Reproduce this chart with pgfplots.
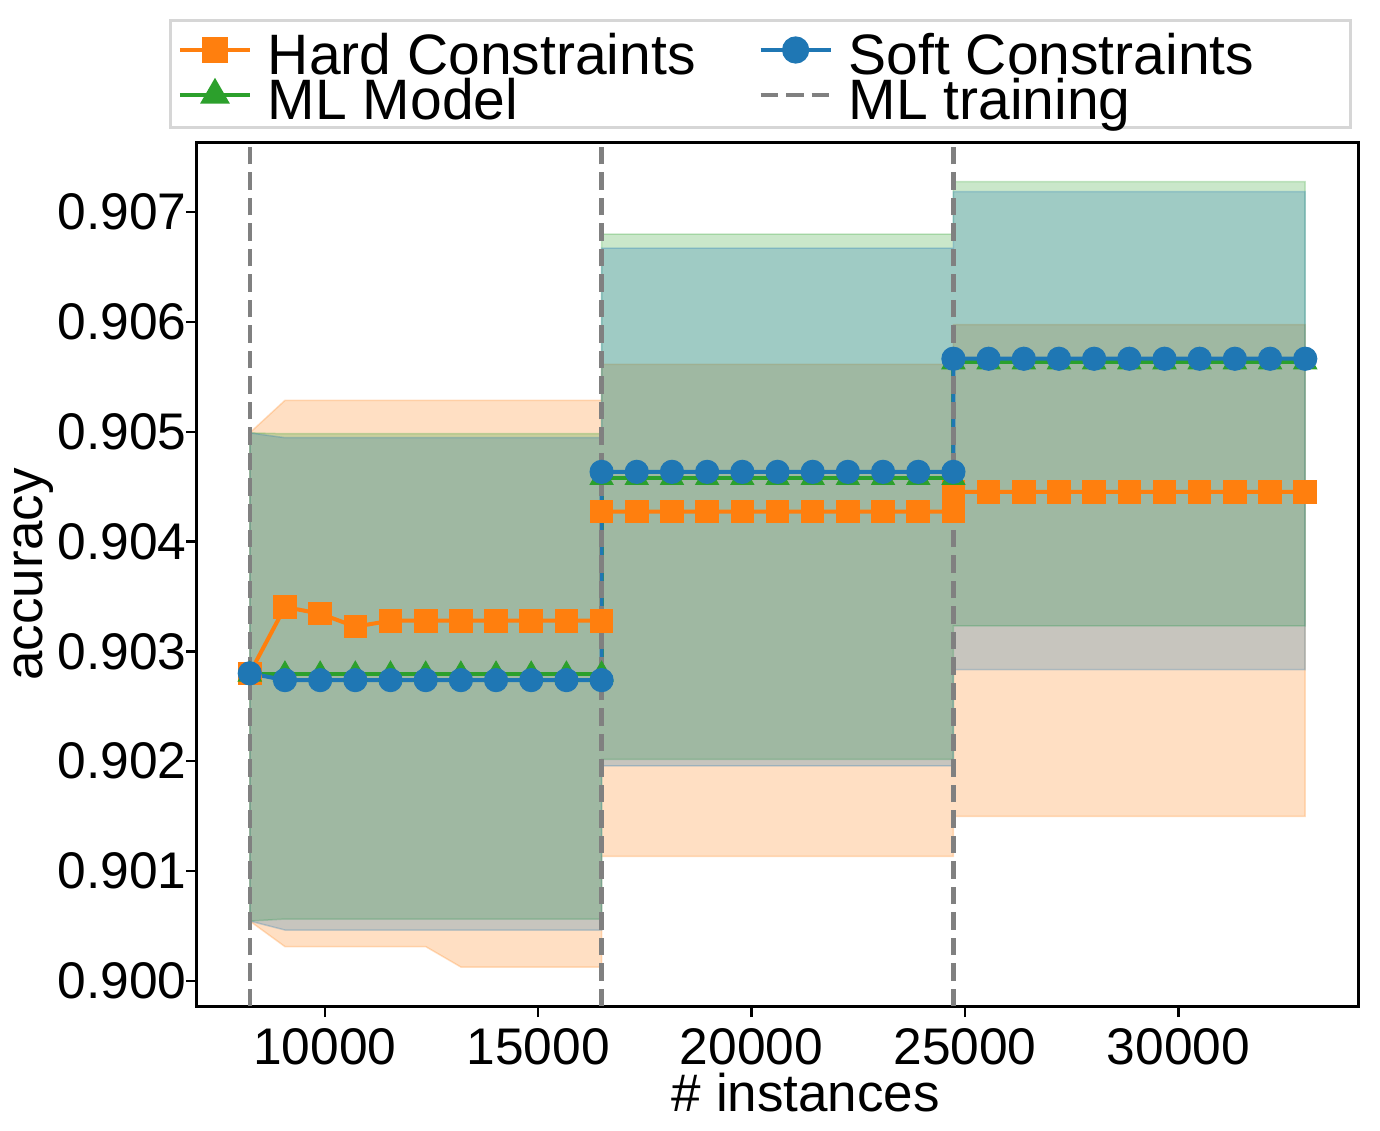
\documentclass[border=0pt]{standalone}
\usepackage{fontspec}
\setmainfont{Liberation Sans}
\usepackage{pgfplots}
\pgfplotsset{compat=1.18}
\definecolor{corange}{HTML}{FF7F0E}
\definecolor{cgreen}{HTML}{2CA02C}
\definecolor{cblue}{HTML}{1F77B4}
\definecolor{cgray}{HTML}{808080}
\begin{document}
\begin{tikzpicture}
% legend frame
\draw[black!16, line width=1.5pt, fill=white] (-13.5pt,439pt) rectangle (576.5pt,492.5pt);
\begin{axis}[
  at={(0pt,0pt)}, anchor=south west,
  scale only axis, width=580.5pt, height=431.5pt,
  xmin=7006.5, xmax=34208.5, ymin=0.89977, ymax=0.90763,
  axis line style={line width=1.5pt, black},
  every tick/.style={black, line width=1.25pt},
  major tick length=5.5pt,
  tick align=outside,
  xtick pos=left, ytick pos=left,
  xtick={10000,15000,20000,25000,30000},
  ytick={0.900,0.901,0.902,0.903,0.904,0.905,0.906,0.907},
  scaled x ticks=false, scaled y ticks=false,
  /pgf/number format/assume math mode=true,
  xticklabel style={font=\fontsize{25.75}{26}\selectfont, inner sep=0pt, anchor=north, yshift=-5.5pt, /pgf/number format/1000 sep={}},
  yticklabel style={font=\fontsize{25.75}{26}\selectfont, inner sep=0pt, anchor=east, xshift=0.5pt, /pgf/number format/.cd, fixed, fixed zerofill, precision=3},
  xlabel={\# instances}, ylabel={accuracy},
  every axis x label/.style={at={(axis description cs:0.5245,-0.12248)}, anchor=base, font=\fontsize{26.5}{27}\selectfont},
  every axis y label/.style={at={(axis description cs:-0.1335,0.5)}, anchor=base, rotate=90, font=\fontsize{26.5}{27}\selectfont},
  legend columns=2, legend cell align=left,
  legend style={
    at={(axis description cs:-0.014643,1.11587)}, anchor=north west,
    draw=none, fill=none, inner sep=0pt, outer sep=0pt,
    font=\fontsize{28.5}{29}\selectfont,
    row sep=0pt,
    nodes={inner sep=0pt, outer sep=0pt, text height=16pt, text depth=6.5pt},
    /tikz/every odd column/.style={column sep=9pt},
    /tikz/every even column/.style={column sep=32.5pt},
  },
  legend image code/.code={
    \draw[overlay, mark repeat=2, mark phase=2, #1] plot coordinates {(0pt,7.75pt) (17.5pt,7.75pt) (35pt,7.75pt)};
    \path[draw=none, fill=none] (0pt,0pt) -- (35pt,0pt);
  },
]
% ---------------- bands ----------------
\addplot[forget plot, fill=corange, draw=corange, opacity=0.25, line width=0.75pt] coordinates {
(8243,0.90499) (9067,0.905286) (9892,0.905286) (10716,0.905286) (11540,0.905286) (12365,0.905286) (13189,0.905286) (14013,0.905286) (14837,0.905286) (15662,0.905286) (16486,0.905286)
(16486,0.905613) (17310,0.905613) (18135,0.905613) (18959,0.905613) (19783,0.905613) (20608,0.905613) (21432,0.905613) (22256,0.905613) (23080,0.905613) (23905,0.905613) (24729,0.905613)
(24729,0.905976) (25553,0.905976) (26378,0.905976) (27202,0.905976) (28026,0.905976) (28851,0.905976) (29675,0.905976) (30499,0.905976) (31323,0.905976) (32148,0.905976) (32972,0.905976)
(32972,0.901496) (32148,0.901496) (31323,0.901496) (30499,0.901496) (29675,0.901496) (28851,0.901496) (28026,0.901496) (27202,0.901496) (26378,0.901496) (25553,0.901496) (24729,0.901496)
(24729,0.901132) (23905,0.901132) (23080,0.901132) (22256,0.901132) (21432,0.901132) (20608,0.901132) (19783,0.901132) (18959,0.901132) (18135,0.901132) (17310,0.901132) (16486,0.901132)
(16486,0.900125) (15662,0.900125) (14837,0.900125) (14013,0.900125) (13189,0.900125) (12365,0.900311) (11540,0.900311) (10716,0.900311) (9892,0.900311) (9067,0.900311) (8243,0.900544)
(8243,0.90499)
};
\addplot[forget plot, fill=cgreen, draw=cgreen, opacity=0.25, line width=0.75pt] coordinates {
(8243,0.90499) (9067,0.904982) (9892,0.904982) (10716,0.904982) (11540,0.904982) (12365,0.904982) (13189,0.904982) (14013,0.904982) (14837,0.904982) (15662,0.904982) (16486,0.904982)
(16486,0.906800) (17310,0.906800) (18135,0.906800) (18959,0.906800) (19783,0.906800) (20608,0.906800) (21432,0.906800) (22256,0.906800) (23080,0.906800) (23905,0.906800) (24729,0.906800)
(24729,0.907278) (25553,0.907278) (26378,0.907278) (27202,0.907278) (28026,0.907278) (28851,0.907278) (29675,0.907278) (30499,0.907278) (31323,0.907278) (32148,0.907278) (32972,0.907278)
(32972,0.903233) (32148,0.903233) (31323,0.903233) (30499,0.903233) (29675,0.903233) (28851,0.903233) (28026,0.903233) (27202,0.903233) (26378,0.903233) (25553,0.903233) (24729,0.903233)
(24729,0.902016) (23905,0.902016) (23080,0.902016) (22256,0.902016) (21432,0.902016) (20608,0.902016) (19783,0.902016) (18959,0.902016) (18135,0.902016) (17310,0.902016) (16486,0.902016)
(16486,0.900562) (15662,0.900562) (14837,0.900562) (14013,0.900562) (13189,0.900562) (12365,0.900562) (11540,0.900562) (10716,0.900562) (9892,0.900562) (9067,0.900562) (8243,0.900544)
(8243,0.90499)
};
\addplot[forget plot, fill=cblue, draw=cblue, opacity=0.25, line width=0.75pt] coordinates {
(8243,0.90499) (9067,0.904946) (9892,0.904946) (10716,0.904946) (11540,0.904946) (12365,0.904946) (13189,0.904946) (14013,0.904946) (14837,0.904946) (15662,0.904946) (16486,0.904946)
(16486,0.906673) (17310,0.906673) (18135,0.906673) (18959,0.906673) (19783,0.906673) (20608,0.906673) (21432,0.906673) (22256,0.906673) (23080,0.906673) (23905,0.906673) (24729,0.906673)
(24729,0.907187) (25553,0.907187) (26378,0.907187) (27202,0.907187) (28026,0.907187) (28851,0.907187) (29675,0.907187) (30499,0.907187) (31323,0.907187) (32148,0.907187) (32972,0.907187)
(32972,0.902834) (32148,0.902834) (31323,0.902834) (30499,0.902834) (29675,0.902834) (28851,0.902834) (28026,0.902834) (27202,0.902834) (26378,0.902834) (25553,0.902834) (24729,0.902834)
(24729,0.901956) (23905,0.901956) (23080,0.901956) (22256,0.901956) (21432,0.901956) (20608,0.901956) (19783,0.901956) (18959,0.901956) (18135,0.901956) (17310,0.901956) (16486,0.901956)
(16486,0.900462) (15662,0.900462) (14837,0.900462) (14013,0.900462) (13189,0.900462) (12365,0.900462) (11540,0.900462) (10716,0.900462) (9892,0.900462) (9067,0.900462) (8243,0.900544)
(8243,0.90499)
};
% ---------------- lines ----------------
\addplot[forget plot, corange, line width=2pt, mark=square*, mark size=5.65pt, mark options={solid, fill=corange, line width=0.5pt}] coordinates {
(8243,0.902800) (9067,0.903404) (9892,0.903343) (10716,0.903225) (11540,0.903279) (12365,0.903279) (13189,0.903279) (14013,0.903279) (14837,0.903279) (15662,0.903279) (16486,0.903279)
(16486,0.904272) (17310,0.904272) (18135,0.904272) (18959,0.904272) (19783,0.904272) (20608,0.904272) (21432,0.904272) (22256,0.904272) (23080,0.904272) (23905,0.904272) (24729,0.904272)
(24729,0.904453) (25553,0.904453) (26378,0.904453) (27202,0.904453) (28026,0.904453) (28851,0.904453) (29675,0.904453) (30499,0.904453) (31323,0.904453) (32148,0.904453) (32972,0.904453)
};
\addplot[forget plot, cgreen, line width=2pt, mark=triangle*, mark size=6.6pt, mark options={solid, fill=cgreen, line width=0.5pt}] coordinates {
(8243,0.902790) (9067,0.902790) (9892,0.902790) (10716,0.902790) (11540,0.902790) (12365,0.902790) (13189,0.902790) (14013,0.902790) (14837,0.902790) (15662,0.902790) (16486,0.902790)
(16486,0.904580) (17310,0.904580) (18135,0.904580) (18959,0.904580) (19783,0.904580) (20608,0.904580) (21432,0.904580) (22256,0.904580) (23080,0.904580) (23905,0.904580) (24729,0.904580)
(24729,0.905634) (25553,0.905634) (26378,0.905634) (27202,0.905634) (28026,0.905634) (28851,0.905634) (29675,0.905634) (30499,0.905634) (31323,0.905634) (32148,0.905634) (32972,0.905634)
};
\addplot[forget plot, cblue, line width=2pt, mark=*, mark size=5.8pt, mark options={solid, fill=cblue, line width=0.5pt}] coordinates {
(8243,0.902800) (9067,0.902738) (9892,0.902738) (10716,0.902738) (11540,0.902738) (12365,0.902738) (13189,0.902738) (14013,0.902738) (14837,0.902738) (15662,0.902738) (16486,0.902738)
(16486,0.904635) (17310,0.904635) (18135,0.904635) (18959,0.904635) (19783,0.904635) (20608,0.904635) (21432,0.904635) (22256,0.904635) (23080,0.904635) (23905,0.904635) (24729,0.904635)
(24729,0.905665) (25553,0.905665) (26378,0.905665) (27202,0.905665) (28026,0.905665) (28851,0.905665) (29675,0.905665) (30499,0.905665) (31323,0.905665) (32148,0.905665) (32972,0.905665)
};
% ---------------- ML training (vertical lines) ----------------
\addplot[forget plot, cgray, line width=2.25pt, dash pattern=on 8.75pt off 4pt] coordinates {(8243,0.89977) (8243,0.90763)};
\addplot[forget plot, cgray, line width=2.25pt, dash pattern=on 8.75pt off 4pt] coordinates {(16486,0.89977) (16486,0.90763)};
\addplot[forget plot, cgray, line width=2.25pt, dash pattern=on 8.75pt off 4pt] coordinates {(24729,0.89977) (24729,0.90763)};
% ---------------- legend ----------------
\addlegendimage{corange, line width=2pt, mark=square*, mark size=5.65pt, mark options={solid, fill=corange}}
\addlegendentry{Hard Constraints}
\addlegendimage{cblue, line width=2pt, mark=*, mark size=5.8pt, mark options={solid, fill=cblue}}
\addlegendentry{Soft Constraints}
\addlegendimage{cgreen, line width=2pt, mark=triangle*, mark size=6.6pt, mark options={solid, fill=cgreen}}
\addlegendentry{ML Model}
\addlegendimage{cgray, line width=2.25pt, dash pattern=on 8.75pt off 4pt}
\addlegendentry{ML training}
\end{axis}
\pgfresetboundingbox
\path[use as bounding box] (-98.5pt,-62pt) rectangle (591.5pt,503pt);
\end{tikzpicture}
\end{document}
